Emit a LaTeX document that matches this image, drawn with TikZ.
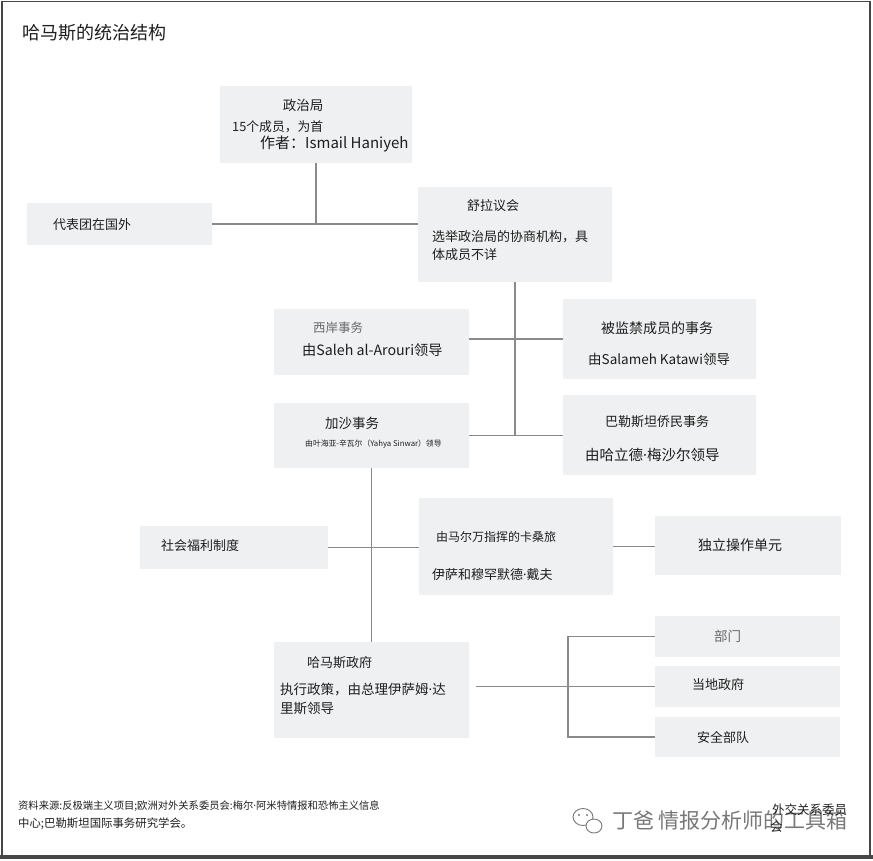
\documentclass[tikz,border=0pt]{standalone}
\usepackage{fontspec}
\setmainfont{Noto Sans CJK SC}
\newfontfamily\dotfont{Noto Sans}
\newcommand{\mdot}{{\dotfont ·}}
\definecolor{boxfill}{RGB}{239,240,241}
\definecolor{linegray}{RGB}{138,138,138}
\definecolor{textdark}{RGB}{30,30,30}
\definecolor{textgray}{RGB}{105,105,105}
\definecolor{framegray}{RGB}{70,70,70}
\definecolor{wmgray}{RGB}{120,120,120}
\begin{document}
\begin{tikzpicture}[x=1pt,y=-1pt,
  box/.style={fill=boxfill, draw=none, inner sep=0pt},
  txt/.style={inner sep=0pt, anchor=west, text=textdark, font=\fontsize{#1}{#1}\selectfont},
  txt/.default=13,
  ctxt/.style={inner sep=0pt, text=textdark, font=\fontsize{#1}{#1}\selectfont},
  ctxt/.default=13,
  conn/.style={draw=linegray, line width=1.2pt}]
\useasboundingbox (0,0) rectangle (873,860);
\fill[white] (0,0) rectangle (873,860);
% frame
\draw[framegray, line width=1.5pt] (2,1.5) rectangle (870,856);
\draw[framegray, line width=3.5pt] (0,857) -- (873,857);

% title
\node[txt=18] (title) at (22,33) {哈马斯的统治结构};

% boxes
\node[box, minimum width=192pt, minimum height=77pt] (pol)   at (316,124.5) {};
\node[box, minimum width=185pt, minimum height=42pt] (dlg)   at (119.5,224) {};
\node[box, minimum width=194pt, minimum height=95pt] (shura) at (515,234.5) {};
\node[box, minimum width=195pt, minimum height=66pt] (wb)    at (371.5,342) {};
\node[box, minimum width=193pt, minimum height=80pt] (pris)  at (659.5,339) {};
\node[box, minimum width=195pt, minimum height=65pt] (gaza)  at (371.5,435.5) {};
\node[box, minimum width=193pt, minimum height=80pt] (dias)  at (659.5,435) {};
\node[box, minimum width=188pt, minimum height=43pt] (welf)  at (234,547.5) {};
\node[box, minimum width=194pt, minimum height=97pt] (qas)   at (516,546.5) {};
\node[box, minimum width=186pt, minimum height=59pt] (indep) at (748,545.5) {};
\node[box, minimum width=195pt, minimum height=96pt] (gov)   at (371.5,690) {};
\node[box, minimum width=185pt, minimum height=41pt] (dept)  at (747.5,636.5) {};
\node[box, minimum width=185pt, minimum height=41pt] (local) at (747.5,686.5) {};
\node[box, minimum width=185pt, minimum height=40pt] (sec)   at (747.5,737) {};

% connectors
\draw[conn] (pol.south) -- (pol.south |- dlg.east);
\draw[conn] (dlg.east) -- (dlg.east -| shura.west);
\draw[conn] (shura.south) -- (shura.south |- gaza.east);
\draw[conn] (pris.west -| wb.east) -- (pris.west);
\draw[conn] (gaza.east) -- (gaza.east -| dias.west);
\draw[conn] (gaza.south) -- (gov.north);
\draw[conn] (welf.east) -- (welf.east -| qas.west);
\draw[conn] (qas.east) -- (qas.east -| indep.west);
\coordinate (bus) at (568,687);
\draw[conn] ([xshift=7pt]gov.east |- local.west) -- (local.west);
\draw[conn] (dept.west) -- (dept.west -| bus) -- (sec.west -| bus) -- (sec.west);

% box texts
\node[ctxt=13.5] (polA) at (303,105) {政治局};
\node[txt=12.8] (polB) at (232,127) {15个成员，为首};
\node[txt=15] (polC) at (260,144) {作者：Ismail Haniyeh};

\node[txt=13] (dlgA) at (53,225) {代表团在国外};

\node[ctxt=13] (shuraA) at (493,206) {舒拉议会};
\node[txt=13] (shuraB) at (432,237) {选举政治局的协商机构，具};
\node[txt=13] (shuraC) at (432,255) {体成员不详};

\node[txt=12.5, text=textgray] (wbA) at (313,328) {西岸事务};
\node[txt=14.2] (wbB) at (302,350) {由Saleh al-Arouri领导};

\node[ctxt=13.5] (gazaA) at (352,423) {加沙事务};
\node[txt=7.8] (gazaB) at (305,444) {由叶海亚-辛瓦尔（Yahya Sinwar）领导};

\node[ctxt=14] (prisA) at (657,328) {被监禁成员的事务};
\node[txt=13.5] (prisB) at (588,359) {由Salameh Katawi领导};

\node[ctxt=13] (diasA) at (657,422) {巴勒斯坦侨民事务};
\node[txt=14.5] (diasB) at (585,455) {由哈立德\mdot 梅沙尔领导};

\node[txt=13] (welfA) at (161,546) {社会福利制度};

\node[txt=12] (qasA) at (436,537) {由马尔万指挥的卡桑旅};
\node[txt=13] (qasB) at (432,575) {伊萨和穆罕默德\mdot 戴夫};

\node[txt=14] (indepA) at (698,545) {独立操作单元};

\node[txt=13] (govA) at (307,663) {哈马斯政府};
\node[txt=13.5] (govB) at (280,690) {执行政策，由总理伊萨姆\mdot 达};
\node[txt=13.5] (govC) at (280,708) {里斯领导};

\node[txt=13.5, text=textgray] (deptA) at (714,636) {部门};
\node[txt=13] (localA) at (692,685) {当地政府};
\node[txt=13] (secA) at (697,737) {安全部队};

% footer
\node[txt=10.3] (srcA) at (18,806) {资料来源:反极端主义项目;欧洲对外关系委员会:梅尔\mdot 阿米特情报和恐怖主义信息};
\node[txt=11.4] (srcB) at (18,824) {中心;巴勒斯坦国际事务研究学会。};

% watermark
\draw[wmgray, line width=0.9pt] (583,817) ellipse (10 and 8.5);
\draw[wmgray, line width=0.9pt, fill=white] (594,826) ellipse (8 and 7);
\fill[wmgray] (579,815) circle (1.1) (587,815) circle (1.1);
\node[txt=21, text=wmgray] (wm) at (612,820) {丁爸 情报分析师的工具箱};

\node[txt=12.5] (fcrA) at (772,810) {外交关系委员};
\node[txt=12.5] (fcrB) at (770,827) {会};
\end{tikzpicture}
\end{document}
